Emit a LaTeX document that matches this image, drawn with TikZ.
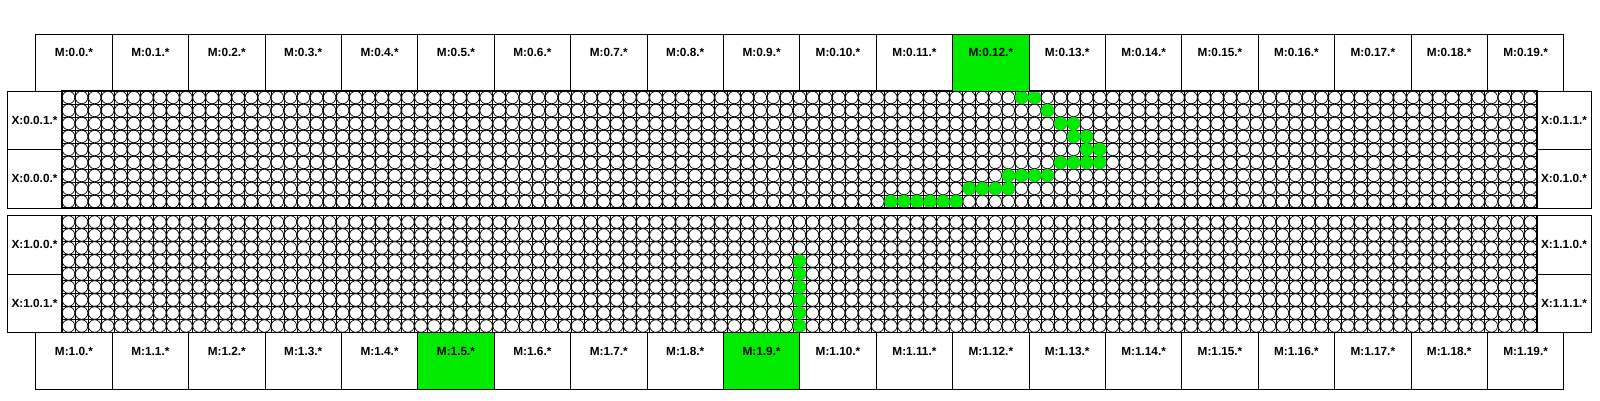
\documentclass[tikz,border=0pt]{standalone}
\usepackage{fontspec}
\setmainfont{Liberation Sans}
\usetikzlibrary{calc}
\definecolor{hl}{RGB}{0,235,0}
\begin{document}
\begin{tikzpicture}[x=1pt,y=-1pt,
  mbox/.style={draw=black,line width=0.9pt,rectangle,minimum width=76.4pt,minimum height=57pt,inner sep=0pt,outer sep=0pt},
  xbox/.style={draw=black,line width=0.9pt,rectangle,minimum width=55pt,minimum height=58.5pt,inner sep=0pt,outer sep=0pt},
  lbl/.style={font=\fontsize{11.8}{13}\selectfont\bfseries,inner sep=0pt},
  band/.style={draw=black,line width=1.1pt,rectangle,minimum width=1475pt,minimum height=117pt,inner sep=0pt,outer sep=0pt},
  gline/.style={draw=black,line width=0.65pt},
  cell/.style={draw=black,fill=white,line width=0.7pt},
  hotc/.style={circle,fill=hl,draw=none,inner sep=0pt,outer sep=0pt,minimum size=13.2pt},
  hotbox/.style={mbox,fill=hl}]
\useasboundingbox (0,0) rectangle (1600,400);
\fill[white] (0,0) rectangle (1600,400);
% ---------- grid bands ----------
\foreach \T in {91,215.5}{
  \fill[white] (62,\T) rectangle (1537,\T+117);
  \foreach \c in {0,...,113}{
    \draw[gline] ({62+\c*13.053},\T) -- ({62+\c*13.053},\T+117);
  }
  \foreach \r in {0,...,9}{
    \draw[gline] (62,\T+\r*13) -- (1537,\T+\r*13);
  }
  \foreach \c in {0,...,112}{
    \foreach \r in {0,...,8}{
      \draw[cell] ({62+(\c+0.5)*13.053},{\T+(\r+0.5)*13}) circle (6.25);
    }
  }
}
% ---------- highlighted path, upper band ----------
\foreach \c/\r in {73/0,74/0,75/1,76/2,77/2,77/3,78/3,78/4,79/4,76/5,77/5,78/5,79/5,72/6,73/6,74/6,75/6,69/7,70/7,71/7,72/7,63/8,64/8,65/8,66/8,67/8,68/8}{
  \node[hotc] (ga\c-\r) at ({62+(\c+0.5)*13.053},{91+(\r+0.5)*13}) {};
}
% ---------- highlighted path, lower band ----------
\foreach \r in {3,...,8}{
  \node[hotc] (gb56-\r) at ({62+56.5*13.053},{215.5+(\r+0.5)*13}) {};
}
\node[band] (bandA) at (799.5,149.5) {};
\node[band] (bandB) at (799.5,274) {};
% ---------- M boxes ----------
\foreach \i in {0,...,19}{
  \pgfmathsetmacro{\cx}{35.8+(\i+0.5)*76.4}
  \ifnum\i=12
    \node[hotbox] (mt\i) at (\cx,62.5) {};
  \else
    \node[mbox] (mt\i) at (\cx,62.5) {};
  \fi
  \node[lbl] (mtl\i) at ($(mt\i.north)+(0,18.7)$) {M:0.\i.*};
  \ifnum\i=5
    \node[hotbox] (mb\i) at (\cx,361) {};
  \else\ifnum\i=9
    \node[hotbox] (mb\i) at (\cx,361) {};
  \else
    \node[mbox] (mb\i) at (\cx,361) {};
  \fi\fi
  \node[lbl] (mbl\i) at ($(mb\i.north)+(0,19)$) {M:1.\i.*};
}
% ---------- X boxes ----------
\node[xbox] (x001) at (34.5,120.25) {};
\node[lbl] at (x001) {X:0.0.1.*};
\node[xbox] (x000) at (34.5,178.75) {};
\node[lbl] at (x000) {X:0.0.0.*};
\node[xbox,minimum width=54pt] (x011) at (1564,120.25) {};
\node[lbl] at (x011) {X:0.1.1.*};
\node[xbox,minimum width=54pt] (x010) at (1564,178.75) {};
\node[lbl] at (x010) {X:0.1.0.*};
\node[xbox] (x100) at (34.5,244.75) {};
\node[lbl] at (x100) {X:1.0.0.*};
\node[xbox] (x101) at (34.5,303.25) {};
\node[lbl] at (x101) {X:1.0.1.*};
\node[xbox,minimum width=54pt] (x110) at (1564,244.75) {};
\node[lbl] at (x110) {X:1.1.0.*};
\node[xbox,minimum width=54pt] (x111) at (1564,303.25) {};
\node[lbl] at (x111) {X:1.1.1.*};
\end{tikzpicture}
\end{document}
